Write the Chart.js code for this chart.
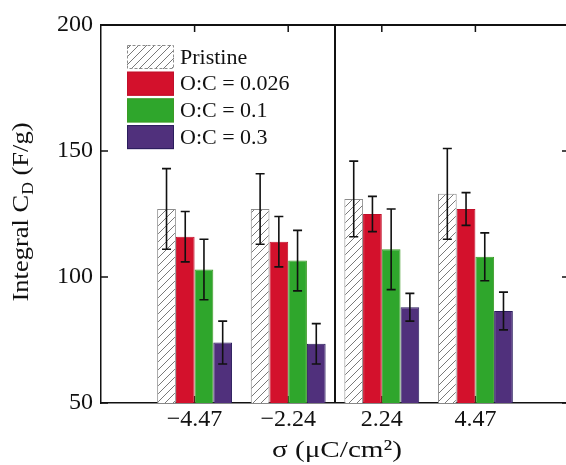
<!DOCTYPE html>
<html>
<head>
<meta charset="utf-8">
<script src="https://cdn.jsdelivr.net/npm/chart.js@4/dist/chart.umd.min.js"></script>
<style>
  html, body { margin: 0; padding: 0; background: #fff; overflow: hidden; }
  #wrap { width: 575px; height: 465px; }
</style>
</head>
<body>
<div id="wrap"><canvas id="chart" width="575" height="465"></canvas></div>
<script>
// categories (empty slots at both ends leave the margins seen in the figure)
const sigmaLabels = ['', '\u22124.47', '\u22122.24', '2.24', '4.47', ''];
const seriesNames = ['Pristine', 'O:C = 0.026', 'O:C = 0.1', 'O:C = 0.3'];

// integral capacitance values (F/g) and error half-widths
const pristine = [null, 127, 127, 131, 133, null];
const pristineErr = [null, 16, 14, 15, 18, null];
const oc026 = [null, 116, 114, 125, 127, null];
const oc026Err = [null, 10, 10, 7, 6.5, null];
const oc01 = [null, 103, 106.5, 111, 108, null];
const oc01Err = [null, 12, 12, 16, 9.5, null];
const oc03 = [null, 74, 73.5, 88, 86.5, null];
const oc03Err = [null, 8.5, 8, 5.5, 7.5, null];

const yTicks = [50, 100, 150, 200];

const serif = "'Liberation Serif', 'DejaVu Serif Condensed', 'Noto Serif', serif";
const canvas = document.getElementById('chart');
const ctx = canvas.getContext('2d');

function makeHatch() {
    const c = document.createElement('canvas');
    c.width = 8;
    c.height = 8;
    const g = c.getContext('2d');
    g.fillStyle = '#ffffff';
    g.fillRect(0, 0, 8, 8);
    g.strokeStyle = '#6a6a6a';
    g.lineWidth = 0.9;
    g.beginPath();
    g.moveTo(0, 8); g.lineTo(8, 0);
    g.moveTo(-1, 1); g.lineTo(1, -1);
    g.moveTo(7, 9); g.lineTo(9, 7);
    g.stroke();
    return ctx.createPattern(c, 'repeat');
}
const hatch = makeHatch();

const errors = [pristineErr, oc026Err, oc01Err, oc03Err];

const figurePlugin = {
    id: 'figure',
    beforeDatasetsDraw(chart) {
        const { ctx, chartArea: a, scales: { x, y } } = chart;
        ctx.save();
        ctx.strokeStyle = '#111';
        ctx.lineWidth = 1.5;
        ctx.beginPath();
        yTicks.forEach(v => {
            const py = y.getPixelForValue(v);
            ctx.moveTo(a.left, py); ctx.lineTo(a.left + 7, py);
            ctx.moveTo(a.right, py); ctx.lineTo(a.right - 7, py);
        });
        for (let i = 1; i < sigmaLabels.length - 1; i++) {
            const px = x.getPixelForValue(i);
            ctx.moveTo(px, a.top); ctx.lineTo(px, a.top + 7);
            ctx.moveTo(px, a.bottom); ctx.lineTo(px, a.bottom - 7);
        }
        ctx.stroke();
        ctx.restore();
    },
    afterDatasetsDraw(chart) {
        const { ctx, chartArea: a, scales: { x, y } } = chart;
        ctx.save();

        // error bars
        ctx.strokeStyle = '#111';
        ctx.lineWidth = 1.6;
        chart.data.datasets.forEach((ds, d) => {
            const meta = chart.getDatasetMeta(d);
            ds.data.forEach((v, i) => {
                if (v === null) return;
                const e = errors[d][i];
                const bx = meta.data[i].x;
                const top = y.getPixelForValue(v + e);
                const bot = y.getPixelForValue(v - e);
                ctx.beginPath();
                ctx.moveTo(bx, top); ctx.lineTo(bx, bot);
                ctx.moveTo(bx - 4.5, top); ctx.lineTo(bx + 4.5, top);
                ctx.moveTo(bx - 4.5, bot); ctx.lineTo(bx + 4.5, bot);
                ctx.stroke();
            });
        });

        // separator between negative and positive charge densities
        const mid = (x.getPixelForValue(2) + x.getPixelForValue(3)) / 2;
        ctx.lineWidth = 2;
        ctx.beginPath();
        ctx.moveTo(mid, a.top); ctx.lineTo(mid, a.bottom);
        // top and right frame
        ctx.moveTo(a.left, a.top); ctx.lineTo(a.right, a.top); ctx.lineTo(a.right, a.bottom);
        ctx.stroke();

        // legend
        const bx = 127, bw = 47, bh = 24;
        ctx.font = '22px ' + serif;
        ctx.textBaseline = 'middle';
        ctx.fillStyle = '#111';
        chart.data.datasets.forEach((ds, d) => {
            const ty = 45 + d * 26.7;
            ctx.fillStyle = ds.backgroundColor;
            ctx.fillRect(bx, ty, bw, bh);
            ctx.strokeStyle = ds.borderColor;
            ctx.lineWidth = 1;
            if (d === 0) ctx.setLineDash([3, 2]);
            ctx.strokeRect(bx + 0.5, ty + 0.5, bw - 1, bh - 1);
            ctx.setLineDash([]);
            ctx.fillStyle = '#111';
            ctx.fillText(ds.label, 180, ty + bh / 2 + 1);
        });

        // y title with subscript
        ctx.save();
        ctx.translate(28, 212);
        ctx.rotate(-Math.PI / 2);
        const big = '24px ' + serif, small = '16px ' + serif;
        ctx.font = big;
        const w1 = ctx.measureText('Integral C').width;
        const w3 = ctx.measureText(' (F/g)').width;
        ctx.font = small;
        const w2 = ctx.measureText('D').width;
        const total = w1 + w2 + w3;
        ctx.scale(179 / total, 1);
        ctx.textBaseline = 'alphabetic';
        ctx.textAlign = 'left';
        let cx = -total / 2;
        ctx.font = big;
        ctx.fillText('Integral C', cx, 0);
        cx += w1;
        ctx.font = small;
        ctx.fillText('D', cx, 5);
        cx += w2;
        ctx.font = big;
        ctx.fillText(' (F/g)', cx, 0);
        ctx.restore();

        // x title
        ctx.save();
        ctx.font = '24px ' + serif;
        ctx.textBaseline = 'alphabetic';
        ctx.textAlign = 'center';
        const xt = '\u03c3 (\u03bcC/cm\u00b2)';
        const xw = ctx.measureText(xt).width;
        ctx.translate(337, 457);
        ctx.scale(130 / xw, 1);
        ctx.fillText(xt, 0, 0);
        ctx.restore();

        ctx.restore();
    }
};

new Chart(ctx, {
    type: 'bar',
    data: {
        labels: sigmaLabels,
        datasets: [
            { label: seriesNames[0], data: pristine, backgroundColor: hatch, borderColor: '#8c8c8c', borderWidth: 1 },
            { label: seriesNames[1], data: oc026, backgroundColor: '#d3112c', borderColor: '#c0102a', borderWidth: 1 },
            { label: seriesNames[2], data: oc01, backgroundColor: '#2fa62c', borderColor: '#3c9a25', borderWidth: 1 },
            { label: seriesNames[3], data: oc03, backgroundColor: '#50307c', borderColor: '#2a1d5c', borderWidth: 1 }
        ]
    },
    options: {
        responsive: false,
        animation: false,
        events: [],
        layout: { padding: { top: 25, right: 6, left: 0, bottom: 0 } },
        datasets: { bar: { categoryPercentage: 0.8, barPercentage: 1 } },
        plugins: { legend: { display: false }, tooltip: { enabled: false } },
        scales: {
            x: {
                offset: false,
                grid: { display: false, drawTicks: false },
                border: { display: true, color: '#111', width: 1.5 },
                ticks: { color: '#111', font: { family: serif, size: 24 }, padding: 2, maxRotation: 0, autoSkip: false },
                afterFit(scale) { scale.height = 62; }
            },
            y: {
                min: 50,
                max: 200,
                grid: { display: false, drawTicks: false },
                border: { display: true, color: '#111', width: 1.5 },
                ticks: { color: '#111', font: { family: serif, size: 24 }, padding: 8, stepSize: 50 },
                afterFit(scale) { scale.width = 101; }
            }
        }
    },
    plugins: [figurePlugin]
});
</script>
</body>
</html>
